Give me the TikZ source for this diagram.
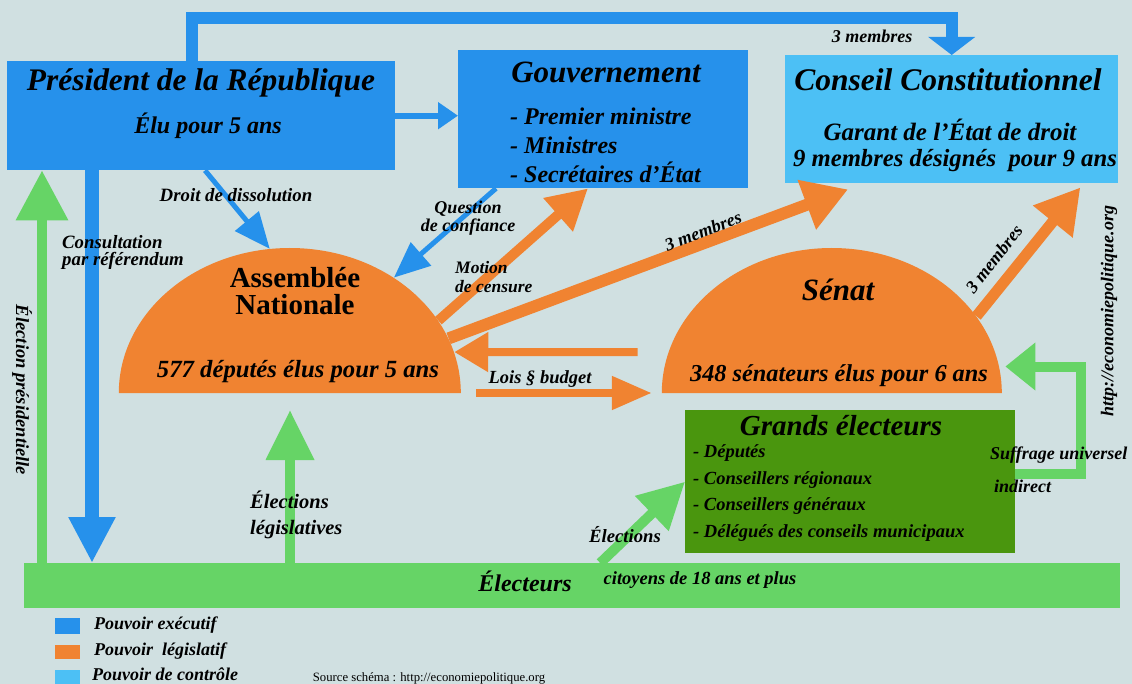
\documentclass[tikz,border=0pt]{standalone}
\usepackage{fontspec}
\setmainfont{Liberation Serif}
\usetikzlibrary{arrows.meta,calc,positioning,shapes.geometric}
\definecolor{fond}{RGB}{208,224,225}
\definecolor{executif}{RGB}{38,145,235}
\definecolor{legislatif}{RGB}{240,131,49}
\definecolor{controle}{RGB}{76,192,245}
\definecolor{electeur}{RGB}{102,212,102}
\definecolor{grands}{RGB}{74,150,14}
\newcommand\fsz[2]{\fontsize{#1}{#2}\selectfont}
\tikzset{
	boite/.style={anchor=north west, inner sep=0pt},
	demi/.style={ellipse, inner sep=0pt},
	txt/.style={inner sep=0pt, font=\fsz{18}{19}\bfseries\itshape, align=left},
	fl/.style n args={3}{line width=#1, -{Triangle[width=#2, length=#3]}}
}

\begin{document}
\begin{tikzpicture}[x=1pt, y=-1pt]
		%%%%% FOND %%%%%
		\useasboundingbox (0,0) rectangle (1132,684);
		\fill[fond] (0,0) rectangle (1132,684);
		
		%%%%% BOITES %%%%%
		\node[boite, fill=executif, minimum width=388pt, minimum height=109pt] (pres) at (7,61) {};
		\node[boite, fill=executif, minimum width=290pt, minimum height=138pt] (gov) at (458,50) {};
		\node[boite, fill=controle, minimum width=333pt, minimum height=128pt] (cc) at (785,55) {};
		\node[boite, fill=grands, minimum width=330pt, minimum height=143pt] (ge) at (685,410) {};
		\node[boite, fill=electeur, minimum width=1096pt, minimum height=45pt] (elec) at (24,563) {};
		
		\node[demi, minimum width=342pt, minimum height=290pt] (an) at (290,393) {};
		\node[demi, minimum width=340pt, minimum height=290pt] (sn) at (832,393) {};
		\fill[legislatif] (an.west) arc[start angle=180, end angle=0, x radius=171pt, y radius=145pt] -- cycle;
		\fill[legislatif] (sn.west) arc[start angle=180, end angle=0, x radius=170pt, y radius=145pt] -- cycle;
		
		%%%%% FLECHES %%%%%
		\draw[executif, fl={12pt}{46pt}{18pt}] ([xshift=185pt]pres.north west) |- ([yshift=37pt]cc.north) -- (cc.north);
		\draw[executif, fl={6pt}{26pt}{20pt}] (pres.east) -- (pres.east -| gov.west);
		\draw[executif, fl={5pt}{30pt}{36pt}] ([xshift=198pt]pres.south west) -- (an.98);
		\draw[executif, fl={14pt}{44pt}{46pt}] ([xshift=85pt]pres.south west) -- ([xshift=85pt]pres.south west |- elec.north);
		\draw[executif, fl={5pt}{30pt}{36pt}] ([xshift=38pt]gov.south west) -- (an.48);
		
		\draw[legislatif, fl={10pt}{42pt}{40pt}] (an.26) -- ([xshift=130pt]gov.south west);
		\draw[legislatif, fl={12pt}{50pt}{44pt}] (an.19) -- ([shift={(63pt,-6pt)}]cc.south west);
		\draw[legislatif, fl={11pt}{48pt}{44pt}] (sn.28) -- ([shift={(-38pt,-4pt)}]cc.south east);
		\draw[legislatif, fl={8pt}{38pt}{34pt}, shorten <=31pt] (sn.166) -- (an.14);
		\draw[legislatif, fl={8pt}{32pt}{40pt}, shorten <=15pt, shorten >=10pt] (an.east) -- (sn.west);
		
		\draw[electeur, fl={10pt}{50pt}{50pt}] ([xshift=35pt]pres.south west |- elec.north) -- ([xshift=35pt]pres.south west);
		\draw[electeur, fl={10pt}{46pt}{50pt}] (an |- elec.north) -- ([yshift=-17pt]an.center);
		\draw[electeur, fl={10pt}{46pt}{46pt}] ([xshift=28pt]elec.north) -- (ge.west);
		\draw[electeur, fl={10pt}{46pt}{30pt}] ([yshift=8pt]ge.east) -| ([xshift=82pt]sn.9) -- ([xshift=6pt]sn.9);
		
		%%%%% TEXTES %%%%%
		\node[txt, font=\fsz{31.4}{32}\bfseries\itshape] (t-pres) at (201,83) {Président de la République};
		\node[txt, font=\fsz{24}{26}\bfseries\itshape] (t-pres2) at (208,126) {Élu pour 5 ans};
		\node[txt, font=\fsz{31}{32}\bfseries\itshape] (t-gov) at (606,72) {Gouvernement};
		\node[txt, font=\fsz{24}{29}\bfseries\itshape, anchor=west] (t-gov2) at (510,145) {- Premier ministre\\- Ministres\\- Secrétaires d’État};
		\node[txt, font=\fsz{31.5}{32}\bfseries\itshape] (t-cc) at (948,80) {Conseil Constitutionnel};
		\node[txt, font=\fsz{25}{26}\bfseries\itshape] (t-cc2) at (950,130) {Garant de l’État de droit};
		\node[txt, font=\fsz{24.7}{26}\bfseries\itshape] (t-cc3) at (955,161) {9 membres désignés\ \ pour 9 ans};
		\node[txt, font=\fsz{29}{27}\bfseries, align=center] (t-an) at (295,291) {Assemblée\\Nationale};
		\node[txt, font=\fsz{24.7}{26}\bfseries\itshape] (t-an2) at (298,372) {577 députés élus pour 5 ans};
		\node[txt, font=\fsz{31}{32}\bfseries\itshape] (t-sn) at (838,290) {Sénat};
		\node[txt, font=\fsz{24.3}{26}\bfseries\itshape] (t-sn2) at (839,376) {348 sénateurs élus pour 6 ans};
		\node[txt, font=\fsz{29}{30}\bfseries\itshape] (t-ge) at (841,426) {Grands électeurs};
		\node[txt, font=\fsz{18.5}{26.7}\bfseries\itshape, anchor=west] (t-ge2) at (693,493) {- Députés\\- Conseillers régionaux\\- Conseillers généraux\\- Délégués des conseils municipaux};
		\node[txt, font=\fsz{24}{26}\bfseries\itshape] (t-elec) at (525,581) {Électeurs};
		\node[txt, font=\fsz{18.5}{19}\bfseries\itshape] (t-elec2) at (700,580) {citoyens de 18 ans et plus};
		
		\node[txt] (l-cc) at (872,36) {3 membres};
		\node[txt, font=\fsz{18.8}{19}\bfseries\itshape] (l-dis) at (236,195) {Droit de dissolution};
		\node[txt, font=\fsz{18.8}{17}\bfseries\itshape, anchor=west] (l-ref) at (62,252) {Consultation\\par référendum};
		\node[txt, font=\fsz{18.5}{19}\bfseries\itshape, rotate=-90] (l-pres) at (22,390) {Élection présidentielle};
		\node[txt, font=\fsz{18}{18}\bfseries\itshape, align=center] (l-conf) at (468,218) {Question\\de confiance};
		\node[txt, font=\fsz{17.5}{19}\bfseries\itshape, anchor=west] (l-cens) at (455,277) {Motion\\de censure};
		\node[txt, rotate=21] (l-an) at (703,231) {3 membres};
		\node[txt, rotate=52] (l-sn) at (994,259) {3 membres};
		\node[txt, font=\fsz{18.5}{19}\bfseries\itshape] (l-lois) at (540,379) {Lois § budget};
		\node[txt, font=\fsz{20.5}{26}\bfseries\itshape, anchor=west] (l-leg) at (250,515) {Élections\\législatives};
		\node[txt, font=\fsz{18.7}{19}\bfseries\itshape] (l-ge) at (625,535) {Élections};
		\node[txt, anchor=west] (l-suf) at (990,455) {Suffrage universel};
		\node[txt, anchor=west] (l-ind) at (994,486) {indirect};
		\node[txt, rotate=90] (l-url) at (1109,311) {http://economiepolitique.org};
		
		%%%%% LEGENDE %%%%%
		\fill[executif] (55,618) rectangle (80,634);
		\fill[legislatif] (55,645) rectangle (80,659);
		\fill[controle] (55,670) rectangle (80,684);
		\node[txt, font=\fsz{18}{19}\bfseries\itshape, anchor=west] (g-exe) at (94,625) {Pouvoir exécutif};
		\node[txt, font=\fsz{18}{19}\bfseries\itshape, anchor=west] (g-leg) at (94,651) {Pouvoir\ \ législatif};
		\node[txt, font=\fsz{18}{19}\bfseries\itshape, anchor=west] (g-ctl) at (92,674) {Pouvoir de contrôle};
		\node[txt, font=\fsz{12.7}{13}] (g-src) at (429,678) {Source schéma : http://economiepolitique.org};
\end{tikzpicture}
\end{document}
